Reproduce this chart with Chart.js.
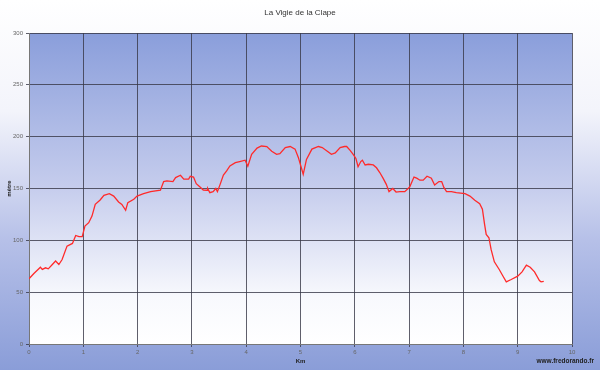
<!DOCTYPE html>
<html>
<head>
<meta charset="utf-8">
<script src="https://cdn.jsdelivr.net/npm/chart.js@4"></script>
<style>
  html, body { margin: 0; padding: 0; }
  #wrap { width: 600px; height: 370px; }
</style>
</head>
<body>
<div id="wrap"><canvas id="profil"></canvas></div>
<script>
const chartTitle = 'La Vigie de la Clape';
const siteLabel = 'www.fredorando.fr';

const xTicks = [0, 1, 2, 3, 4, 5, 6, 7, 8, 9, 10];
const yTicks = [0, 50, 100, 150, 200, 250, 300];

// distance (km) / altitude (m)
const km = [0, 0.09, 0.21, 0.245, 0.305, 0.355, 0.43, 0.49, 0.55, 0.61, 0.70, 0.80, 0.86, 0.92, 0.98,
  1.03, 1.10, 1.16, 1.22, 1.31, 1.38, 1.48, 1.56, 1.65, 1.71, 1.78, 1.82, 1.93, 1.99,
  2.11, 2.24, 2.42, 2.48, 2.54, 2.65, 2.70, 2.79, 2.85, 2.94, 2.97,
  3.03, 3.08, 3.15, 3.21, 3.28, 3.29, 3.33, 3.39, 3.44, 3.47, 3.52, 3.58, 3.64, 3.70, 3.80, 3.88, 3.98,
  4.03, 4.10, 4.20, 4.28, 4.38, 4.47, 4.56, 4.62, 4.72, 4.81, 4.90, 4.96,
  5.05, 5.11, 5.21, 5.33, 5.40, 5.50, 5.57, 5.64, 5.73, 5.81, 5.85, 5.91, 5.97,
  6.02, 6.06, 6.11, 6.14, 6.19, 6.25, 6.34, 6.40, 6.46, 6.52, 6.58, 6.63, 6.70, 6.76, 6.83, 6.92,
  7.01, 7.09, 7.14, 7.20, 7.26, 7.33, 7.41, 7.47, 7.55, 7.60, 7.64, 7.69, 7.78, 7.87,
  8.03, 8.12, 8.21, 8.30, 8.35, 8.39, 8.42, 8.47, 8.51, 8.57, 8.66, 8.73, 8.79, 8.88,
  9.00, 9.08, 9.16, 9.23, 9.31, 9.40, 9.43, 9.48];
const altitude = [63, 68, 74, 72, 73.5, 72.5, 76.7, 80, 76.7, 81.5, 94.4, 97, 104.7, 103.5, 103.5,
  113.7, 117, 123.4, 134.7, 138.9, 143.4, 145, 142.7, 137, 134.7, 129, 136.4, 139.6, 142.7,
  145, 147, 148.3, 156.7, 157.3, 156.7, 160.5, 162.8, 159, 159, 161.8,
  161, 154.7, 151.4, 148.5, 148.3, 150, 146, 147, 150, 147, 154, 163, 167, 171.8, 175, 176, 177.3,
  171.5, 183, 189, 191, 190.5, 186, 183, 183.7, 189.5, 190.5, 188, 180,
  163.7, 178, 188, 190.5, 189.5, 185.7, 183, 184.3, 189.5, 190.5, 190.5, 187, 183,
  179, 171, 176, 177.3, 172.7, 173.4, 172.7, 170, 165.4, 160, 154, 147, 150, 146.6, 147, 147,
  151.4, 161, 160, 158, 158, 161.8, 160, 153.4, 156.7, 156.7, 151, 147, 147, 146,
  145, 142.7, 138.6, 135.4, 130, 115.4, 105.7, 102.5, 91.2, 79.3, 71.9, 65.4, 60, 62.2,
  65.4, 69.6, 76, 74, 69.6, 61.2, 60, 60.5];

const points = km.map((x, i) => ({ x: x, y: altitude[i] }));

const fondPlugin = {
  id: 'fond',
  beforeDraw(chart) {
    const { ctx, width, height, chartArea: a } = chart;
    ctx.save();
    let g = ctx.createLinearGradient(0, 0, 0, height);
    g.addColorStop(0, '#ffffff');
    g.addColorStop(0.3, '#f3f4fb');
    g.addColorStop(0.65, '#b6c0e8');
    g.addColorStop(1, '#8a9dd8');
    ctx.fillStyle = g;
    ctx.fillRect(0, 0, width, height);
    g = ctx.createLinearGradient(0, a.top, 0, a.bottom);
    g.addColorStop(0, '#8a9edb');
    g.addColorStop(0.5, '#c6cded');
    g.addColorStop(0.85, '#f8f9fd');
    g.addColorStop(1, '#ffffff');
    ctx.fillStyle = g;
    ctx.fillRect(a.left, a.top, a.right - a.left, a.bottom - a.top);
    ctx.restore();
  },
  afterDraw(chart) {
    const ctx = chart.ctx;
    ctx.save();
    ctx.fillStyle = '#333';
    ctx.font = '8px "Liberation Sans", Arial, sans-serif';
    ctx.textAlign = 'center';
    ctx.textBaseline = 'middle';
    ctx.fillText(chartTitle, 300, 13);
    ctx.font = 'bold 6.5px "Liberation Sans", Arial, sans-serif';
    ctx.fillStyle = '#222';
    ctx.textAlign = 'right';
    ctx.fillText(siteLabel, 594, 361);
    ctx.restore();
  }
};

const gridColor = 'rgba(55,55,70,0.8)';
const tickFont = { family: '"Liberation Sans", Arial, sans-serif', size: 6 };

new Chart(document.getElementById('profil'), {
  type: 'line',
  data: {
    datasets: [{
      label: 'altitude',
      data: points,
      borderColor: '#ff2a2a',
      borderWidth: 1.3,
      pointRadius: 0,
      tension: 0,
      fill: false
    }]
  },
  options: {
    responsive: true,
    maintainAspectRatio: false,
    animation: false,
    layout: { padding: { top: 33, right: 28, left: 0, bottom: 0 } },
    plugins: {
      legend: { display: false },
      tooltip: { enabled: false }
    },
    scales: {
      x: {
        type: 'linear',
        min: 0,
        max: 10,
        afterBuildTicks: s => { s.ticks = xTicks.map(v => ({ value: v })); },
        afterFit: s => { s.height = 26; },
        grid: { color: gridColor, lineWidth: 1, tickLength: 3 },
        border: { color: '#777' },
        ticks: { font: tickFont, color: '#666', padding: 2, maxRotation: 0 },
        title: { display: true, text: 'Km', color: '#222', font: { family: tickFont.family, size: 6, weight: 'bold' }, padding: { top: 0, bottom: 5.4 } }
      },
      y: {
        min: 0,
        max: 300,
        afterBuildTicks: s => { s.ticks = yTicks.map(v => ({ value: v })); },
        afterFit: s => { s.width = 29; },
        grid: { color: gridColor, lineWidth: 1, tickLength: 3 },
        border: { color: '#777' },
        ticks: { font: tickFont, color: '#666', padding: 3 },
        title: { display: true, text: 'mètre', color: '#222', font: { family: tickFont.family, size: 6, weight: 'bold' }, padding: { top: 5.4, bottom: 0 } }
      }
    }
  },
  plugins: [fondPlugin]
});
</script>
</body>
</html>
